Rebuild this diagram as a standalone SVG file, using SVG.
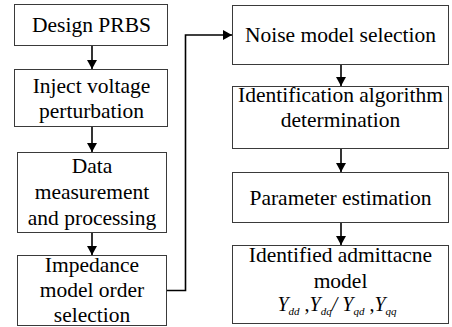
<svg xmlns="http://www.w3.org/2000/svg" width="452" height="327" viewBox="0 0 452 327" font-family="Liberation Serif, Times New Roman, DejaVu Serif, serif">
  <style>
    .box { fill: #ffffff; stroke: #3a3a3a; stroke-width: 1; }
    text { font-family: 'Liberation Serif', 'Times New Roman', 'DejaVu Serif', serif; }
    .lbl { font-size: 21.5px; fill: #000; text-anchor: middle; }
    .it { font-style: italic; }
    .sub { font-style: italic; font-size: 11px; }
    .wire { fill: none; stroke: #000; stroke-width: 1.6; }
  </style>
  <defs>
    <marker id="arrow" markerUnits="userSpaceOnUse" markerWidth="10" markerHeight="10" refX="9" refY="5" orient="auto">
      <path d="M0,0 L9,5 L0,10 Z" fill="#000"/>
    </marker>
  </defs>

  <rect width="452" height="327" fill="#ffffff"/>

  <!-- connectors -->
  <g id="connectors">
    <line class="wire" x1="92" y1="45.5" x2="92" y2="69" marker-end="url(#arrow)"/>
    <line class="wire" x1="92" y1="126.5" x2="92" y2="152" marker-end="url(#arrow)"/>
    <line class="wire" x1="92" y1="232.5" x2="92" y2="255" marker-end="url(#arrow)"/>
    <path class="wire" d="M166.5,290.5 H185.5 V35 H232" marker-end="url(#arrow)"/>
    <line class="wire" x1="341" y1="64.5" x2="341" y2="86" marker-end="url(#arrow)"/>
    <line class="wire" x1="341" y1="148.5" x2="341" y2="172" marker-end="url(#arrow)"/>
    <line class="wire" x1="341" y1="222.5" x2="341" y2="245" marker-end="url(#arrow)"/>
  </g>

  <!-- left column -->
  <g id="design-prbs">
    <rect class="box" x="14.5" y="4.5" width="153" height="41"/>
    <text class="lbl" x="91.5" y="32">Design PRBS</text>
  </g>
  <g id="inject-voltage">
    <rect class="box" x="14.5" y="69.5" width="153" height="57"/>
    <text class="lbl" x="91.5" y="93">Inject voltage</text>
    <text class="lbl" x="91.5" y="118">perturbation</text>
  </g>
  <g id="data-measurement">
    <rect class="box" x="17.5" y="152.5" width="149" height="80"/>
    <text class="lbl" x="92" y="173">Data</text>
    <text class="lbl" x="92" y="199">measurement</text>
    <text class="lbl" x="92" y="225">and processing</text>
  </g>
  <g id="impedance-order">
    <rect class="box" x="17.5" y="255.5" width="149" height="70"/>
    <text class="lbl" x="92" y="272">Impedance</text>
    <text class="lbl" x="92" y="297">model order</text>
    <text class="lbl" x="92" y="322">selection</text>
  </g>

  <!-- right column -->
  <g id="noise-model">
    <rect class="box" x="232.5" y="5.5" width="216" height="59"/>
    <text class="lbl" x="340.5" y="42">Noise model selection</text>
  </g>
  <g id="identification-algorithm">
    <rect class="box" x="232.5" y="86.5" width="216" height="62"/>
    <text class="lbl" x="340.5" y="101.5">Identification algorithm</text>
    <text class="lbl" x="340.5" y="126.5">determination</text>
  </g>
  <g id="parameter-estimation">
    <rect class="box" x="232.5" y="172.5" width="216" height="50"/>
    <text class="lbl" x="340.5" y="205">Parameter estimation</text>
  </g>
  <g id="admittance-model">
    <rect class="box" x="232.5" y="245.5" width="216" height="78"/>
    <text class="lbl" x="340.5" y="262">Identified admittacne</text>
    <text class="lbl" x="340.5" y="288">model</text>
    <text class="lbl" x="337" y="311" style="font-size:20px"><tspan class="it">Y</tspan><tspan class="sub" dy="3.5">dd</tspan><tspan dy="-3.5"> ,</tspan><tspan class="it">Y</tspan><tspan class="sub" dy="3.5">dq</tspan><tspan class="it" dy="-3.5">/ </tspan><tspan class="it">Y</tspan><tspan class="sub" dy="3.5">qd</tspan><tspan dy="-3.5"> ,</tspan><tspan class="it">Y</tspan><tspan class="sub" dy="3.5">qq</tspan></text>
  </g>
</svg>
